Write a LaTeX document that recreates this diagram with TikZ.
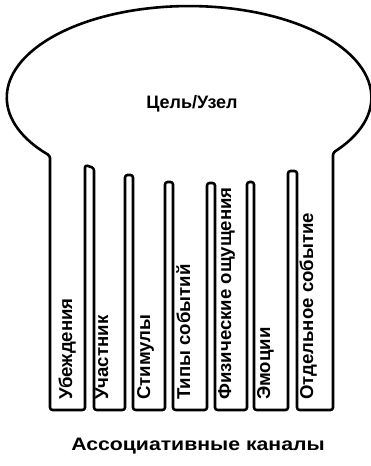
\documentclass[tikz,border=0pt]{standalone}
\usepackage{fontspec}
\setmainfont{Liberation Sans}
\usetikzlibrary{positioning}
\tikzstyle{outline} = [line width=2.6pt, rounded corners=2.5pt, line join=round]
\tikzstyle{channel} = [rotate=90, anchor=base west, inner sep=0pt,
    font=\fontsize{18.6}{20}\selectfont\bfseries]
\tikzstyle{caption} = [inner sep=0pt, font=\fontsize{18}{20}\selectfont\bfseries]

\begin{document}
\begin{tikzpicture}[x=1pt, y=1pt]
  \useasboundingbox (0,0) rectangle (370,466);
  % head and comb of channels
  \draw [outline] (333,313.3) arc[start angle=-37.7, end angle=220.2,
      x radius=182, y radius=91]
    -- (50,56) -- (85,56) -- (85,301) -- (94,298) -- (94,56)
    -- (125,56) -- (125,291) -- (133,291) -- (133,56)
    -- (165,56) -- (165,284) -- (173,284) -- (173,56)
    -- (207,56) -- (207,283) -- (215,283) -- (215,56)
    -- (247,56) -- (247,284) -- (254,284) -- (254,56)
    -- (288,56) -- (288,295) -- (297,295) -- (297,56)
    -- (333,56) -- cycle;
  \node [caption] (goal) at (192,362) {Цель/Узел};
  \node [channel] (c1) at (72,66) {Убеждения};
  \node [channel] (c2) at (108,66) {Участник};
  \node [channel] (c3) at (150,66) {Стимулы};
  \node [channel] (c4) at (190,66) {Типы событий};
  \node [channel] (c5) at (231,66) {Физические ощущения};
  \node [channel] (c6) at (270,66) {Эмоции};
  \node [channel] (c7) at (313,66) {Отдельное событие};
  \node [caption, anchor=base] (assoc) at (198,16)
    {\addfontfeature{FakeStretch=1.18}Ассоциативные каналы};
\end{tikzpicture}
\end{document}
